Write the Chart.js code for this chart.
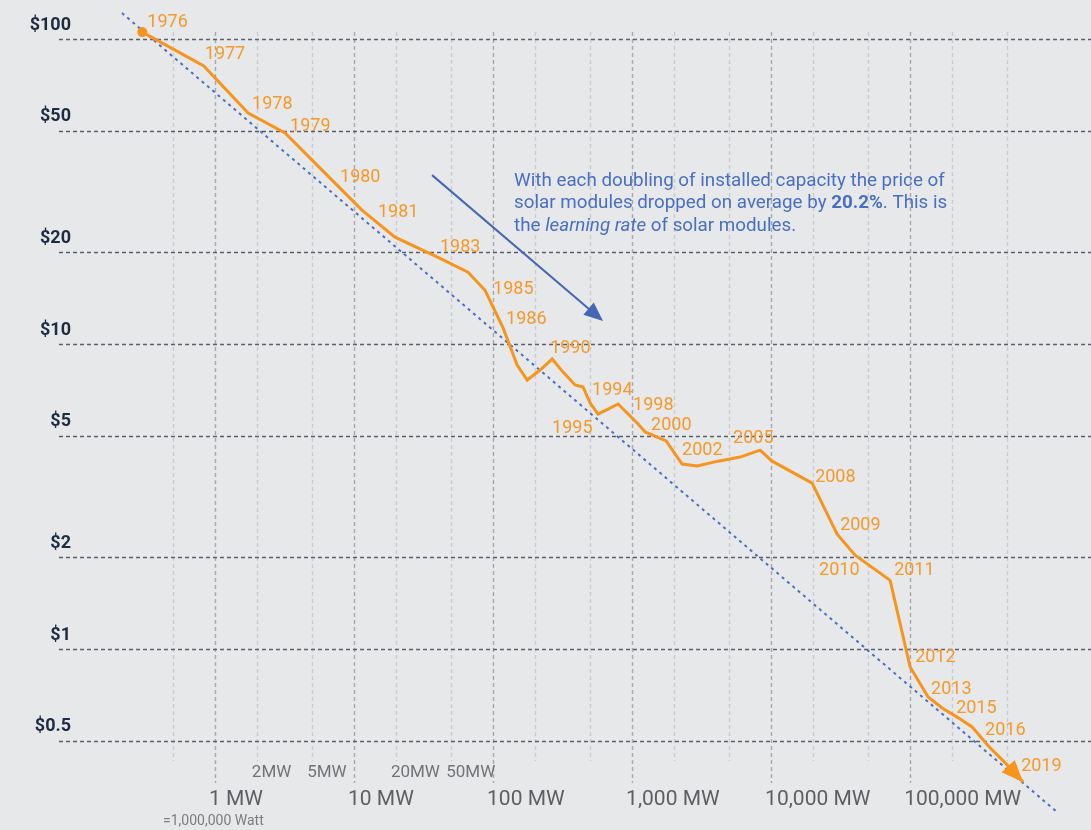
<!DOCTYPE html>
<html>
<head>
<meta charset="utf-8">
<script src="https://cdn.jsdelivr.net/npm/chart.js@4.4.1/dist/chart.umd.min.js"></script>
<style>
  html, body { margin: 0; padding: 0; background: #e7e8ea; }
  #wrap { position: relative; width: 1091px; height: 830px; }
</style>
</head>
<body>
<div id="wrap"><canvas id="chart"></canvas></div>
<script>
// ---------------- data ----------------
const years = [1976, 1977, 1978, 1979, 1980, 1981, 1982, 1983, 1984, 1985,
  1986, 1987, 1988, 1989, 1990, 1991, 1992, 1993, 1994, 1995,
  1996, 1997, 1998, 1999, 2000, 2001, 2002, 2003, 2004, 2005,
  2006, 2007, 2008, 2009, 2010, 2011, 2012, 2013, 2014, 2015,
  2016, 2017, 2018, 2019];

// cumulative installed capacity, MW
const capacityMW = [0.30, 0.83, 1.73, 3.19, 7.06, 11.4, 19.7, 39.5, 66, 87.6,
  118, 149, 176, 218, 266, 319, 389, 444, 499, 569,
  672, 793, 968, 1105, 1241, 1758, 2290, 2937, 4159, 5984,
  8334, 10170, 19730, 29850, 40200, 71800, 100000, 134700, 169900, 217800,
  279200, 376500, 491000, 650000];

// module price, $ per watt
const pricePerWatt = [105.4, 81.6, 57.2, 49.2, 34.2, 27.5, 22.4, 19.3, 17.2, 15.0,
  11.3, 8.53, 7.62, 8.22, 8.93, 8.09, 7.34, 7.23, 6.41, 5.89,
  6.12, 6.36, 5.81, 5.47, 5.15, 4.81, 4.04, 3.98, 4.13, 4.26,
  4.49, 4.13, 3.50, 2.38, 2.03, 1.68, 0.873, 0.696, 0.641, 0.598,
  0.555, 0.474, 0.420, 0.366];

// dotted learning-curve line (two ends)
const trendCapacity = [0.214, 1160000];
const trendPrice = [121.7, 0.29];

const labelledYears = [1976, 1977, 1978, 1979, 1980, 1981, 1983, 1985, 1986, 1990,
  1994, 1995, 1998, 2000, 2002, 2005, 2008, 2009, 2010, 2011,
  2012, 2013, 2015, 2016, 2019];

const yTickValues = [100, 50, 20, 10, 5, 2, 1, 0.5];
const yTickLabels = ['$100', '$50', '$20', '$10', '$5', '$2', '$1', '$0.5'];

const xMajorTicks = [1, 10, 100, 1000, 10000, 100000];
const xMajorLabels = ['1 MW', '10 MW', '100 MW', '1,000 MW', '10,000 MW', '100,000 MW'];
const xMinorTicks = [0.5, 2, 5, 20, 50, 200, 500, 2000, 5000, 20000, 50000, 200000, 500000];
const xMinorLabelTicks = [2, 5, 20, 50];
const xMinorLabels = ['2MW', '5MW', '20MW', '50MW'];

const noteLines = [
  [['With each doubling of installed capacity the price of', '']],
  [['solar modules dropped on average by ', ''], ['20.2%', 'bold'], ['. This is', '']],
  [['the ', ''], ['learning rate', 'italic'], [' of solar modules.', '']]
];

// ---------------- layout / style ----------------
const ORANGE = '#f6941e';
const ORANGE_TEXT = '#f49a2a';
const BLUE = '#4a6fbf';
const FONT = 'Roboto, "Noto Sans", sans-serif';

// pixel offsets of each year label from its point
const yearLabelOffsets = {
  1976: [5, -10], 1977: [1, -11], 1978: [4, -9], 1979: [5, -7], 1980: [7, -4],
  1981: [16, 2], 1983: [3, -9], 1985: [8, -1], 1986: [3, -8], 1990: [-2, -11],
  1994: [2, -12], 1995: [-46, 14], 1998: [3, -10], 2000: [6, -6], 2002: [0, -14],
  2005: [-7, -19], 2008: [3, -6], 2009: [3, -9], 2010: [-36, 15], 2011: [4, -10],
  2012: [5, -9], 2013: [3, -8], 2015: [-1, -9], 2016: [13, 4], 2019: [-2, -16]
};

// note text and blue arrow anchored in data units
const noteAnchor = { x: 141.6, y: 34.2 };
const arrowFrom = { x: 36.4, y: 35.8 };
const arrowTo = { x: 618, y: 11.9 };

function drawHead(c, tipX, tipY, fromX, fromY, len, half, color) {
  const a = Math.atan2(tipY - fromY, tipX - fromX);
  const ux = Math.cos(a), uy = Math.sin(a);
  c.fillStyle = color;
  c.beginPath();
  c.moveTo(tipX, tipY);
  c.lineTo(tipX - ux * len - uy * half, tipY - uy * len + ux * half);
  c.lineTo(tipX - ux * len + uy * half, tipY - uy * len - ux * half);
  c.closePath();
  c.fill();
}

// ---------------- grid, axes text, annotations ----------------
const decor = {
  id: 'decor',
  beforeDatasetsDraw(chart) {
    const c = chart.ctx;
    const xs = chart.scales.x, ys = chart.scales.y;
    c.save();
    // vertical grid
    c.setLineDash([4, 3]);
    c.lineWidth = 1.4;
    xMinorTicks.forEach(v => {
      const px = Math.round(xs.getPixelForValue(v)) + 0.5;
      c.strokeStyle = '#cacbce';
      c.beginPath(); c.moveTo(px, 32); c.lineTo(px, 761); c.stroke();
    });
    xMajorTicks.forEach(v => {
      const px = Math.round(xs.getPixelForValue(v)) + 0.5;
      c.strokeStyle = '#a6a8ac';
      c.beginPath(); c.moveTo(px, 32); c.lineTo(px, 783); c.stroke();
    });
    // horizontal grid
    c.lineWidth = 1.3;
    c.strokeStyle = '#59606b';
    yTickValues.forEach(v => {
      const py = Math.round(ys.getPixelForValue(v)) + 0.5;
      c.beginPath(); c.moveTo(59, py); c.lineTo(chart.width, py); c.stroke();
    });
    c.setLineDash([]);
    // y labels
    c.font = 'bold 18px ' + FONT;
    c.fillStyle = '#1e2c40';
    c.textAlign = 'right';
    c.textBaseline = 'middle';
    yTickValues.forEach((v, i) => {
      c.fillText(yTickLabels[i], 71, ys.getPixelForValue(v) - 14);
    });
    // x labels
    c.textAlign = 'left';
    c.font = '21px ' + FONT;
    c.fillStyle = '#5d5f63';
    xMajorTicks.forEach((v, i) => {
      c.fillText(xMajorLabels[i], xs.getPixelForValue(v) - 6, 800);
    });
    c.font = '17px ' + FONT;
    c.fillStyle = '#717377';
    xMinorLabelTicks.forEach((v, i) => {
      c.fillText(xMinorLabels[i], xs.getPixelForValue(v) - 5, 773);
    });
    c.font = '14px ' + FONT;
    c.fillStyle = '#7b7d81';
    c.fillText('=1,000,000 Watt', 163, 821);
    c.restore();
  },
  afterDatasetsDraw(chart) {
    const c = chart.ctx;
    const xs = chart.scales.x, ys = chart.scales.y;
    c.save();
    // arrow head at the end of the price line
    const n = capacityMW.length;
    drawHead(c,
      xs.getPixelForValue(capacityMW[n - 1]), ys.getPixelForValue(pricePerWatt[n - 1]),
      xs.getPixelForValue(capacityMW[n - 2]), ys.getPixelForValue(pricePerWatt[n - 2]),
      22, 9, ORANGE);
    // year labels
    c.font = '18px ' + FONT;
    c.fillStyle = ORANGE_TEXT;
    c.textAlign = 'left';
    c.textBaseline = 'middle';
    labelledYears.forEach(yr => {
      const i = years.indexOf(yr);
      const off = yearLabelOffsets[yr] || [3, -10];
      c.fillText(String(yr),
        xs.getPixelForValue(capacityMW[i]) + off[0],
        ys.getPixelForValue(pricePerWatt[i]) + off[1]);
    });
    // blue arrow
    const ax0 = xs.getPixelForValue(arrowFrom.x), ay0 = ys.getPixelForValue(arrowFrom.y);
    const ax1 = xs.getPixelForValue(arrowTo.x), ay1 = ys.getPixelForValue(arrowTo.y);
    c.strokeStyle = '#4566b2';
    c.lineWidth = 2;
    c.beginPath(); c.moveTo(ax0, ay0); c.lineTo(ax1 - (ax1 - ax0) * 0.06, ay1 - (ay1 - ay0) * 0.06); c.stroke();
    drawHead(c, ax1, ay1, ax0, ay0, 19, 8, '#4566b2');
    // note text
    const nx = xs.getPixelForValue(noteAnchor.x);
    let ny = ys.getPixelForValue(noteAnchor.y);
    c.fillStyle = BLUE;
    noteLines.forEach(line => {
      let x = nx;
      line.forEach(([txt, style]) => {
        c.font = (style ? style + ' ' : '') + '18.8px ' + FONT;
        c.fillText(txt, x, ny);
        x += c.measureText(txt).width;
      });
      ny += 22.5;
    });
    c.restore();
  }
};

const ctx = document.getElementById('chart').getContext('2d');

new Chart(ctx, {
  type: 'line',
  data: {
    datasets: [{
      label: 'Module price',
      data: capacityMW.map((v, i) => ({ x: v, y: pricePerWatt[i] })),
      borderColor: ORANGE,
      backgroundColor: ORANGE,
      borderWidth: 3,
      pointRadius: c => (c.dataIndex === 0 ? 5 : 0),
      pointBorderWidth: 0,
      tension: 0,
      clip: false,
      order: 1
    }, {
      label: 'Learning curve',
      data: trendCapacity.map((v, i) => ({ x: v, y: trendPrice[i] })),
      borderColor: BLUE,
      borderWidth: 2,
      borderDash: [3, 4],
      pointRadius: 0,
      order: 2
    }]
  },
  options: {
    responsive: true,
    maintainAspectRatio: false,
    animation: false,
    layout: { padding: 0, autoPadding: false },
    scales: {
      x: { type: 'logarithmic', min: 0.0284, max: 2.0e6, display: false },
      y: { type: 'logarithmic', min: 0.255, max: 134.3, display: false }
    },
    plugins: {
      legend: { display: false },
      tooltip: { enabled: false }
    }
  },
  plugins: [decor]
});
</script>
</body>
</html>
